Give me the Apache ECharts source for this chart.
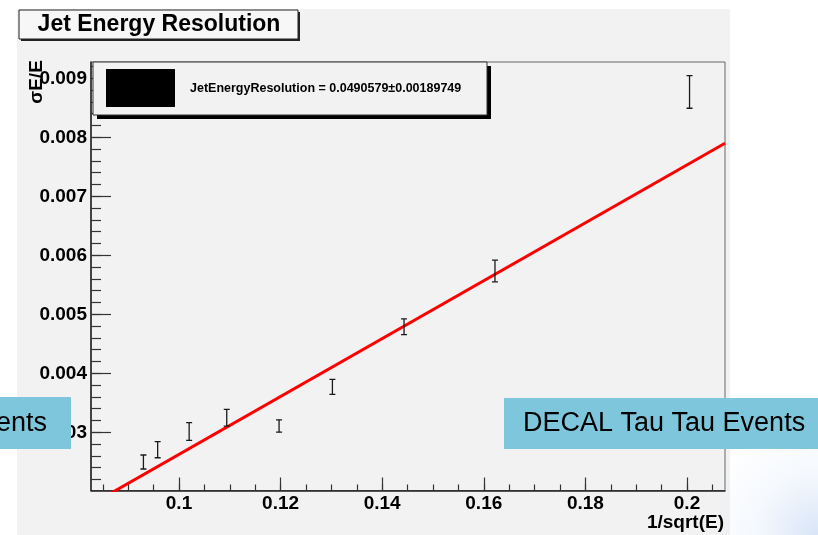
<!DOCTYPE html>
<html>
<head>
<meta charset="utf-8">
<title>Jet Energy Resolution</title>
<script src="https://cdn.jsdelivr.net/npm/echarts@6/dist/echarts.min.js"></script>
<style>
  html, body { margin: 0; padding: 0; background: #ffffff; }
  #wrap { position: relative; width: 818px; height: 535px; overflow: hidden; background: #ffffff; }
  #canvasBg { position: absolute; left: 17px; top: 9px; width: 713px; height: 526px; background: #f2f2f2; }
  #corner { position: absolute; left: 720px; top: 440px; width: 98px; height: 95px;
            background: radial-gradient(circle at 100% 100%, rgba(200,218,244,0.7) 0%, rgba(225,235,249,0.35) 45%, rgba(255,255,255,0) 85%); }
  #chart { position: absolute; left: 0; top: 0; width: 818px; height: 535px; }
</style>
</head>
<body>
<div id="wrap">
  <div id="canvasBg"></div>
  <div id="corner"></div>
  <div id="chart"></div>
</div>
<script>
// 1/sqrt(E) of each energy bin
const invSqrtE = [0.0930, 0.0958, 0.1020, 0.1094, 0.1197, 0.1302, 0.1443, 0.1622, 0.2005];
// sigma(E)/E measured in each bin
const sigmaOverE = [0.002497, 0.002705, 0.003014, 0.003247, 0.003107, 0.003771, 0.004788, 0.005734, 0.008768];
// uncertainty on sigma(E)/E
const sigmaErr = [0.000119, 0.000136, 0.000149, 0.000141, 0.000105, 0.000127, 0.000133, 0.000184, 0.000276];

// linear fit: slope from the fit result, offset of the fitted line
const fitSlope = 0.0490579;
const fitSlopeErr = 0.00189749;
const fitOffset = -0.00228;

// axis ranges
const xRange = [0.08268, 0.20748];
const yRange = [0.002014, 0.009276];

// tick positions and labels
const xMajorTicks = [0.10, 0.12, 0.14, 0.16, 0.18, 0.20];
const xTickLabels = ['0.1', '0.12', '0.14', '0.16', '0.18', '0.2'];
const yMajorTicks = [0.003, 0.004, 0.005, 0.006, 0.007, 0.008, 0.009];
const yTickLabels = ['0.003', '0.004', '0.005', '0.006', '0.007', '0.008', '0.009'];
const xMinorStep = 0.005;
const yMinorStep = 0.0002;

function minorTicks(range, step) {
  const out = [];
  const start = Math.ceil(range[0] / step - 1e-9);
  const end = Math.floor(range[1] / step + 1e-9);
  for (let k = start; k <= end; k++) out.push(+(k * step).toFixed(6));
  return out;
}
const xMinorTicks = minorTicks(xRange, xMinorStep);
const yMinorTicks = minorTicks(yRange, yMinorStep);

const FONT = '"Liberation Sans", Arial, Helvetica, sans-serif';

const errorData = invSqrtE.map((x, i) => [x, sigmaOverE[i], sigmaErr[i]]);
const fitLine = xRange.map(x => [x, fitOffset + fitSlope * x]);

function labelFor(values, labels) {
  return function (v) {
    for (let i = 0; i < values.length; i++) {
      if (Math.abs(values[i] - v) < 1e-9) return labels[i];
    }
    return '';
  };
}

const chart = echarts.init(document.getElementById('chart'), null, { renderer: 'canvas' });

const axisLineStyle = { color: '#222', width: 1.5 };

chart.setOption({
  backgroundColor: 'transparent',
  animation: false,
  grid: {
    left: 91, right: 93, top: 62, bottom: 44.5,
    show: true, borderColor: '#666', borderWidth: 1, backgroundColor: 'transparent'
  },
  xAxis: [
    {
      type: 'value', min: xRange[0], max: xRange[1], position: 'bottom',
      axisLine: { show: true, lineStyle: axisLineStyle },
      axisTick: { show: true, inside: true, length: 13, customValues: xMajorTicks, lineStyle: { color: '#333', width: 1.2 } },
      axisLabel: {
        show: true, customValues: xMajorTicks, formatter: labelFor(xMajorTicks, xTickLabels),
        fontFamily: FONT, fontWeight: 'bold', fontSize: 19, color: '#000', margin: 4
      },
      splitLine: { show: false }
    },
    {
      type: 'value', min: xRange[0], max: xRange[1], position: 'bottom', offset: 0,
      axisLine: { show: false },
      axisTick: { show: true, inside: true, length: 6, customValues: xMinorTicks, lineStyle: { color: '#333', width: 1.2 } },
      axisLabel: { show: false },
      splitLine: { show: false }
    }
  ],
  yAxis: [
    {
      type: 'value', min: yRange[0], max: yRange[1], position: 'left',
      axisLine: { show: true, lineStyle: axisLineStyle },
      axisTick: { show: true, inside: true, length: 20, customValues: yMajorTicks, lineStyle: { color: '#333', width: 1.2 } },
      axisLabel: {
        show: true, customValues: yMajorTicks, formatter: labelFor(yMajorTicks, yTickLabels),
        fontFamily: FONT, fontWeight: 'bold', fontSize: 19, color: '#000', margin: 4
      },
      splitLine: { show: false }
    },
    {
      type: 'value', min: yRange[0], max: yRange[1], position: 'left', offset: 0,
      axisLine: { show: false },
      axisTick: { show: true, inside: true, length: 10, customValues: yMinorTicks, lineStyle: { color: '#333', width: 1.2 } },
      axisLabel: { show: false },
      splitLine: { show: false }
    }
  ],
  series: [
    {
      name: 'fit',
      type: 'line',
      xAxisIndex: 0, yAxisIndex: 0,
      data: fitLine,
      showSymbol: false,
      clip: true,
      lineStyle: { color: '#ff0000', width: 3 },
      z: 3
    },
    {
      name: 'sigmaE/E',
      type: 'custom',
      xAxisIndex: 0, yAxisIndex: 0,
      data: errorData,
      clip: true,
      z: 4,
      renderItem: function (params, api) {
        const x = api.value(0), y = api.value(1), e = api.value(2);
        const lo = api.coord([x, y - e]);
        const hi = api.coord([x, y + e]);
        const cap = 3;
        const style = { stroke: '#1a1a1a', lineWidth: 1.3 };
        return {
          type: 'group',
          children: [
            { type: 'line', shape: { x1: lo[0], y1: lo[1], x2: hi[0], y2: hi[1] }, style: style },
            { type: 'line', shape: { x1: lo[0] - cap, y1: lo[1], x2: lo[0] + cap, y2: lo[1] }, style: style },
            { type: 'line', shape: { x1: hi[0] - cap, y1: hi[1], x2: hi[0] + cap, y2: hi[1] }, style: style }
          ]
        };
      }
    }
  ],
  graphic: [
    // title box with shadow
    { type: 'rect', z: 100, shape: { x: 21, y: 12, width: 279, height: 29 }, style: { fill: '#222' } },
    { type: 'rect', z: 101, shape: { x: 19, y: 10, width: 279, height: 29 }, style: { fill: '#f7f7f7', stroke: '#222', lineWidth: 1 } },
    { type: 'text', z: 102, x: 159, y: 25,
      style: { text: 'Jet Energy Resolution', fontFamily: FONT, fontWeight: 'bold', fontSize: 23, fill: '#000', align: 'center', verticalAlign: 'middle' } },

    // fit result box with shadow
    { type: 'rect', z: 100, shape: { x: 97, y: 66, width: 394, height: 53 }, style: { fill: '#000' } },
    { type: 'rect', z: 101, shape: { x: 93, y: 62, width: 394, height: 53 }, style: { fill: '#f2f2f2', stroke: '#333', lineWidth: 1 } },
    { type: 'rect', z: 102, shape: { x: 106, y: 69, width: 69, height: 38 }, style: { fill: '#000' } },
    { type: 'text', z: 102, x: 190, y: 88.5,
      style: { text: 'JetEnergyResolution = ' + fitSlope + '\u00b1' + fitSlopeErr, fontFamily: FONT, fontWeight: 'bold', fontSize: 12.5, fill: '#000', align: 'left', verticalAlign: 'middle' } },

    // y axis title
    { type: 'text', z: 102, x: 37, y: 82, rotation: Math.PI / 2,
      style: { text: '\u03c3E/E', fontFamily: FONT, fontWeight: 'bold', fontSize: 19, fill: '#000', align: 'center', verticalAlign: 'middle' } },

    // x axis title
    { type: 'text', z: 102, x: 724, y: 523,
      style: { text: '1/sqrt(E)', fontFamily: FONT, fontWeight: 'bold', fontSize: 19, fill: '#000', align: 'right', verticalAlign: 'middle' } },

    // caption boxes
    { type: 'rect', z: 110, shape: { x: 0, y: 397, width: 71, height: 52 }, style: { fill: '#7ec6dc' } },
    { type: 'text', z: 111, x: 47, y: 424,
      style: { text: 'ents', fontFamily: FONT, fontSize: 27, fill: '#000', align: 'right', verticalAlign: 'middle' } },
    { type: 'rect', z: 110, shape: { x: 504, y: 398, width: 314, height: 51 }, style: { fill: '#7ec6dc' } },
    { type: 'text', z: 111, x: 523, y: 424,
      style: { text: 'DECAL Tau Tau Events', fontFamily: FONT, fontSize: 27, fill: '#000', align: 'left', verticalAlign: 'middle' } }
  ]
});
</script>
</body>
</html>
